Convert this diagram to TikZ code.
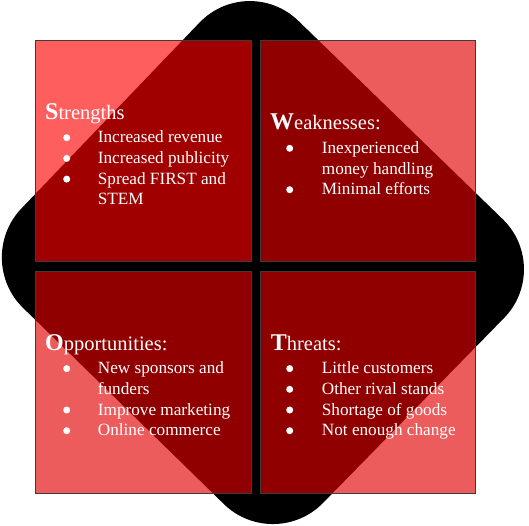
\documentclass[tikz,border=0pt]{standalone}
\usepackage{fontspec}
\setmainfont{Liberation Serif}
\definecolor{quadred}{RGB}{226,0,0}
\definecolor{quadedge}{RGB}{60,60,60}
% enlarged bold initial of each heading
\newcommand\capini[1]{{\fontsize{24}{24}\selectfont\bfseries #1}}
\begin{document}
\begin{tikzpicture}[x=1pt,y=-1pt,
  quadA/.style={fill=red, fill opacity=0.63, draw=quadedge, line width=0.8pt},
  quadB/.style={fill=quadred, fill opacity=0.64, draw=quadedge, line width=0.8pt},
  head/.style={anchor=base west, inner sep=0pt, text=white, font=\fontsize{20.5}{24}\selectfont},
  entry/.style={anchor=base west, inner sep=0pt, text=white, font=\fontsize{17.2}{20}\selectfont},
  dot/.style={circle, fill=white, minimum size=7pt, inner sep=0pt}]
\useasboundingbox (0,0) rectangle (529,525);

% black rounded diamond behind the grid
\fill[black, rounded corners=70pt] (248,-28) -- (553,268) -- (274,553) -- (-27,259) -- cycle;

% the four quadrants
\draw[quadA] (35.5,40) rectangle (251,261.7);
\draw[quadB] (260,40) rectangle (475.5,261.7);
\draw[quadB] (35.5,271.7) rectangle (251,493);
\draw[quadB] (260,271.7) rectangle (475.5,493);

% Strengths
\node[head] (sh) at (45,119) {\capini{S}trengths};
\node[dot] (sd1) at (66.7,137.7) {};
\node[entry] (s1) at (97.7,142.7) {Increased revenue};
\node[dot] (sd2) at (66.7,158.4) {};
\node[entry] (s2) at (97.7,163.4) {Increased publicity};
\node[dot] (sd3) at (66.7,179.1) {};
\node[entry] (s3) at (97.7,184.1) {Spread FIRST and};
\node[entry] (s3b) at (97.7,204.8) {STEM};

% Weaknesses
\node[head] (wh) at (270,129) {\capini{W}eaknesses:};
\node[dot] (wd1) at (289.7,148.3) {};
\node[entry] (w1) at (321.7,153.3) {Inexperienced};
\node[entry] (w1b) at (321.7,174) {money handling};
\node[dot] (wd2) at (289.7,189.7) {};
\node[entry] (w2) at (321.7,194.7) {Minimal efforts};

% Opportunities
\node[head] (oh) at (45,350.7) {\capini{O}pportunities:};
\node[dot] (od1) at (66.7,368.6) {};
\node[entry] (o1) at (97.7,373.6) {New sponsors and};
\node[entry] (o1b) at (97.7,394.3) {funders};
\node[dot] (od2) at (66.7,410) {};
\node[entry] (o2) at (97.7,415) {Improve marketing};
\node[dot] (od3) at (66.7,430.7) {};
\node[entry] (o3) at (97.7,435.7) {Online commerce};

% Threats
\node[head] (th) at (270.7,350.4) {\capini{T}hreats:};
\node[dot] (td1) at (289.7,368.6) {};
\node[entry] (t1) at (321.7,373.6) {Little customers};
\node[dot] (td2) at (289.7,389.3) {};
\node[entry] (t2) at (321.7,394.3) {Other rival stands};
\node[dot] (td3) at (289.7,410) {};
\node[entry] (t3) at (321.7,415) {Shortage of goods};
\node[dot] (td4) at (289.7,430.7) {};
\node[entry] (t4) at (321.7,435.7) {Not enough change};
\end{tikzpicture}
\end{document}
